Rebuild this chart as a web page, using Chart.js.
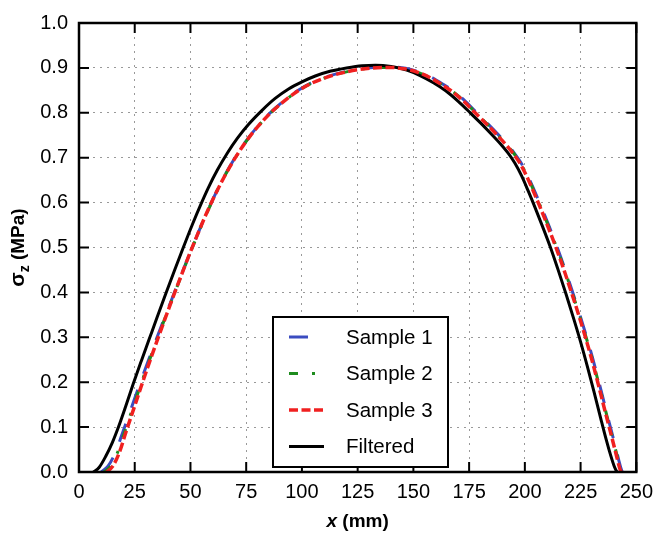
<!DOCTYPE html>
<html>
<head>
<meta charset="utf-8">
<script src="https://cdn.jsdelivr.net/npm/chart.js@4"></script>
<style>
  body { margin: 0; background: #fff; }
  #wrap { width: 661px; height: 540px; }
</style>
</head>
<body>
<div id="wrap"><canvas id="chart"></canvas></div>
<script>
'use strict';

// x positions (mm) and stress (MPa)
let sample1X = [10, 13, 16.3, 19.6, 23.3, 27, 30.7, 34.4, 38.1, 41.8, 45.4, 49, 53, 57, 61, 65, 69.5, 74.5, 80, 86, 92, 98, 104, 111, 118, 125, 132, 139, 146.5, 152.5, 158.5, 163.5, 168, 173, 178, 182.5, 187, 191.5, 195, 198, 201, 204, 207, 210.5, 214, 217.5, 221, 224.5, 227.5, 230.5, 233.5, 236.5, 239, 240.8, 242.2, 243, 243.7];
let sample1Y = [0, 0.013, 0.043, 0.088, 0.14, 0.192, 0.243, 0.292, 0.34, 0.387, 0.433, 0.478, 0.527, 0.574, 0.617, 0.657, 0.696, 0.734, 0.769, 0.801, 0.827, 0.849, 0.866, 0.88, 0.89, 0.897, 0.901, 0.902, 0.899, 0.891, 0.878, 0.863, 0.848, 0.827, 0.802, 0.78, 0.757, 0.733, 0.712, 0.691, 0.663, 0.63, 0.595, 0.552, 0.507, 0.459, 0.407, 0.353, 0.304, 0.252, 0.195, 0.136, 0.088, 0.053, 0.025, 0.01, 0];

let sample2X = [11.2, 14, 17.1, 20.2, 23.8, 27.4, 31, 34.7, 38.3, 41.9, 45.5, 49, 53, 57, 61, 65, 69.5, 74.5, 80, 86, 92, 98, 104, 111, 118, 125, 132, 139, 146, 152, 158, 163, 167.8, 172.8, 177.8, 182.3, 186.8, 191.3, 194.8, 197.8, 200.8, 203.8, 206.8, 210.3, 213.8, 217.3, 220.8, 224.3, 227.3, 230.3, 233.3, 236.3, 238.8, 240.6, 242, 242.8, 243.4];
let sample2Y = [0, 0.012, 0.041, 0.085, 0.138, 0.19, 0.241, 0.291, 0.339, 0.386, 0.432, 0.477, 0.526, 0.573, 0.616, 0.656, 0.695, 0.733, 0.768, 0.8, 0.826, 0.848, 0.865, 0.879, 0.889, 0.896, 0.9, 0.901, 0.898, 0.89, 0.877, 0.862, 0.847, 0.826, 0.801, 0.779, 0.756, 0.732, 0.711, 0.69, 0.662, 0.629, 0.594, 0.551, 0.506, 0.458, 0.406, 0.352, 0.303, 0.251, 0.194, 0.135, 0.087, 0.052, 0.024, 0.009, 0];

let sample3X = [12.4, 15, 18, 21, 24.5, 28, 31.5, 35, 38.5, 42, 45.5, 49, 53, 57, 61, 65, 69.5, 74.5, 80, 86, 92, 98, 104, 111, 118, 125, 132, 139, 146, 152, 158, 163, 167.5, 172.5, 177.5, 182, 186.5, 191, 194.5, 197.5, 200.5, 203.5, 206.5, 210, 213.5, 217, 220.5, 224, 227, 230, 233, 236, 238.5, 240.3, 241.7, 242.5, 243.2];
let sample3Y = [0, 0.012, 0.042, 0.088, 0.14, 0.192, 0.243, 0.292, 0.34, 0.387, 0.433, 0.478, 0.527, 0.574, 0.617, 0.656, 0.695, 0.733, 0.768, 0.8, 0.826, 0.848, 0.865, 0.879, 0.889, 0.896, 0.9, 0.901, 0.898, 0.89, 0.877, 0.862, 0.847, 0.826, 0.801, 0.779, 0.756, 0.732, 0.711, 0.69, 0.662, 0.629, 0.594, 0.551, 0.506, 0.458, 0.406, 0.352, 0.303, 0.251, 0.194, 0.135, 0.087, 0.052, 0.024, 0.009, 0];

let filteredX = [6.5, 9, 12, 15, 17.7, 21, 24.3, 28, 31.5, 35, 39, 43, 46.7, 51, 55, 58, 62, 66.5, 71, 76, 82, 88, 94, 100, 106, 113, 120, 127, 133, 140, 147, 153, 159, 164.5, 170, 175.5, 180, 184.5, 189, 192.5, 195.5, 198.5, 201.5, 204.5, 208, 211.5, 215, 218.5, 222, 225, 228, 231, 234, 236.5, 238.5, 240, 241, 241.5];
let filteredY = [0, 0.01, 0.035, 0.066, 0.1, 0.147, 0.196, 0.248, 0.296, 0.344, 0.398, 0.451, 0.499, 0.553, 0.6, 0.633, 0.672, 0.71, 0.743, 0.774, 0.805, 0.832, 0.853, 0.869, 0.882, 0.893, 0.9, 0.905, 0.906, 0.903, 0.895, 0.883, 0.867, 0.849, 0.826, 0.8, 0.778, 0.755, 0.731, 0.71, 0.688, 0.66, 0.626, 0.59, 0.546, 0.5, 0.449, 0.396, 0.34, 0.29, 0.236, 0.179, 0.12, 0.072, 0.037, 0.014, 0.003, 0];

let xMin = 0, xMax = 250, xStep = 25;
let yMin = 0, yMax = 1, yStep = 0.1;

let font = '"Liberation Sans", Arial, sans-serif';

function points(xs, ys) {
  let out = [];
  for (let i = 0; i < xs.length; i++) {
    out.push({ x: xs[i], y: ys[i] });
  }
  return out;
}

// inward tick marks on all four sides + black frame
let frameTicks = {
  id: 'frameTicks',
  afterDatasetsDraw(chart) {
    let ctx = chart.ctx;
    let a = chart.chartArea;
    let xs = chart.scales.x;
    let ys = chart.scales.y;
    ctx.save();
    ctx.strokeStyle = '#000';
    ctx.lineWidth = 2;
    ctx.setLineDash([]);
    ctx.beginPath();
    xs.ticks.forEach(t => {
      let p = xs.getPixelForValue(t.value);
      ctx.moveTo(p, a.bottom);
      ctx.lineTo(p, a.bottom - 10);
      ctx.moveTo(p, a.top);
      ctx.lineTo(p, a.top + 10);
    });
    ys.ticks.forEach(t => {
      let p = ys.getPixelForValue(t.value);
      ctx.moveTo(a.left, p);
      ctx.lineTo(a.left + 10, p);
      ctx.moveTo(a.right, p);
      ctx.lineTo(a.right - 10, p);
    });
    ctx.stroke();
    ctx.lineWidth = 2.5;
    ctx.strokeRect(a.left, a.top, a.right - a.left, a.bottom - a.top);
    ctx.restore();
  }
};

// legend box sitting inside the plot
let insideLegend = {
  id: 'insideLegend',
  afterDraw(chart) {
    let ctx = chart.ctx;
    let a = chart.chartArea;
    let left = a.left + 194;
    let top = a.top + 294;
    let w = 175;
    let h = 150;
    ctx.save();
    ctx.fillStyle = '#fff';
    ctx.fillRect(left, top, w, h);
    ctx.strokeStyle = '#000';
    ctx.lineWidth = 2;
    ctx.setLineDash([]);
    ctx.strokeRect(left, top, w, h);
    ctx.font = '20.5px ' + font;
    ctx.textBaseline = 'middle';
    ctx.textAlign = 'left';
    chart.data.datasets.forEach((ds, i) => {
      let y = top + 20 + i * 36.5;
      ctx.strokeStyle = ds.borderColor;
      ctx.lineWidth = ds.borderWidth;
      ctx.setLineDash(ds.borderDash || []);
      ctx.beginPath();
      ctx.moveTo(left + 16, y);
      ctx.lineTo(left + 51, y);
      ctx.stroke();
      ctx.fillStyle = '#000';
      ctx.fillText(ds.label, left + 73, y + 1);
    });
    ctx.restore();
  }
};

// axis titles with subscript / italic parts
let axisTitles = {
  id: 'axisTitles',
  afterDraw(chart) {
    let ctx = chart.ctx;
    let a = chart.chartArea;
    ctx.save();
    ctx.fillStyle = '#000';
    ctx.textBaseline = 'alphabetic';
    ctx.textAlign = 'left';

    // x title
    let big = 'bold 19px ' + font;
    ctx.font = 'italic ' + big;
    let w1 = ctx.measureText('x').width;
    ctx.font = big;
    let w2 = ctx.measureText(' (mm)').width;
    let cx = (a.left + a.right) / 2;
    let x0 = cx - (w1 + w2) / 2;
    ctx.font = 'italic ' + big;
    ctx.fillText('x', x0, 527);
    ctx.font = big;
    ctx.fillText(' (mm)', x0 + w1, 527);

    // y title, rotated
    ctx.translate(24, (a.top + a.bottom) / 2);
    ctx.rotate(-Math.PI / 2);
    let small = 'bold 14px ' + font;
    let sigma = 'bold 21px ' + font;
    ctx.font = sigma;
    let s1 = ctx.measureText('σ').width;
    ctx.font = small;
    let s2 = ctx.measureText('z').width;
    ctx.font = big;
    let s3 = ctx.measureText(' (MPa)').width;
    let y0 = -(s1 + s2 + s3) / 2;
    ctx.font = sigma;
    ctx.fillText('σ', y0, 0);
    ctx.font = small;
    ctx.fillText('z', y0 + s1, 5);
    ctx.font = big;
    ctx.fillText(' (MPa)', y0 + s1 + s2, 0);
    ctx.restore();
  }
};

let dataObject = {
  datasets: [
    {
      label: 'Sample 1',
      data: points(sample1X, sample1Y),
      borderColor: '#3b4cc0',
      borderWidth: 3,
      borderDash: [19, 17],
      order: 3
    },
    {
      label: 'Sample 2',
      data: points(sample2X, sample2Y),
      borderColor: '#1e8c1e',
      borderWidth: 3,
      borderDash: [9, 14, 3, 14],
      order: 2
    },
    {
      label: 'Sample 3',
      data: points(sample3X, sample3Y),
      borderColor: '#f02020',
      borderWidth: 3.5,
      borderDash: [9, 3.5],
      order: 0
    },
    {
      label: 'Filtered',
      data: points(filteredX, filteredY),
      borderColor: '#000',
      borderWidth: 3,
      order: 1
    }
  ]
};

let config = {
  type: 'line',
  data: dataObject,
  options: {
    responsive: true,
    maintainAspectRatio: false,
    animation: false,
    events: [],
    layout: { padding: { top: 19, right: 18, left: 0, bottom: 0 } },
    elements: {
      point: { radius: 0 },
      line: { tension: 0.4, cubicInterpolationMode: 'monotone', fill: false }
    },
    plugins: {
      legend: { display: false },
      tooltip: { enabled: false }
    },
    scales: {
      x: {
        type: 'linear',
        min: xMin,
        max: xMax,
        afterFit: s => { s.height = 68; },
        ticks: {
          stepSize: xStep,
          color: '#000',
          padding: 8,
          maxRotation: 0,
          font: { family: font, size: 20 }
        },
        grid: { color: '#999', lineWidth: 1, drawTicks: false },
        border: { display: false, dash: [2, 5] }
      },
      y: {
        type: 'linear',
        min: yMin,
        max: yMax,
        afterFit: s => { s.width = 79; },
        ticks: {
          stepSize: yStep,
          color: '#000',
          padding: 11,
          font: { family: font, size: 20 },
          callback: v => Number(v).toFixed(1)
        },
        grid: { color: '#999', lineWidth: 1, drawTicks: false },
        border: { display: false, dash: [2, 5] }
      }
    }
  },
  plugins: [frameTicks, insideLegend, axisTitles]
};

new Chart(document.getElementById('chart'), config);
</script>
</body>
</html>
